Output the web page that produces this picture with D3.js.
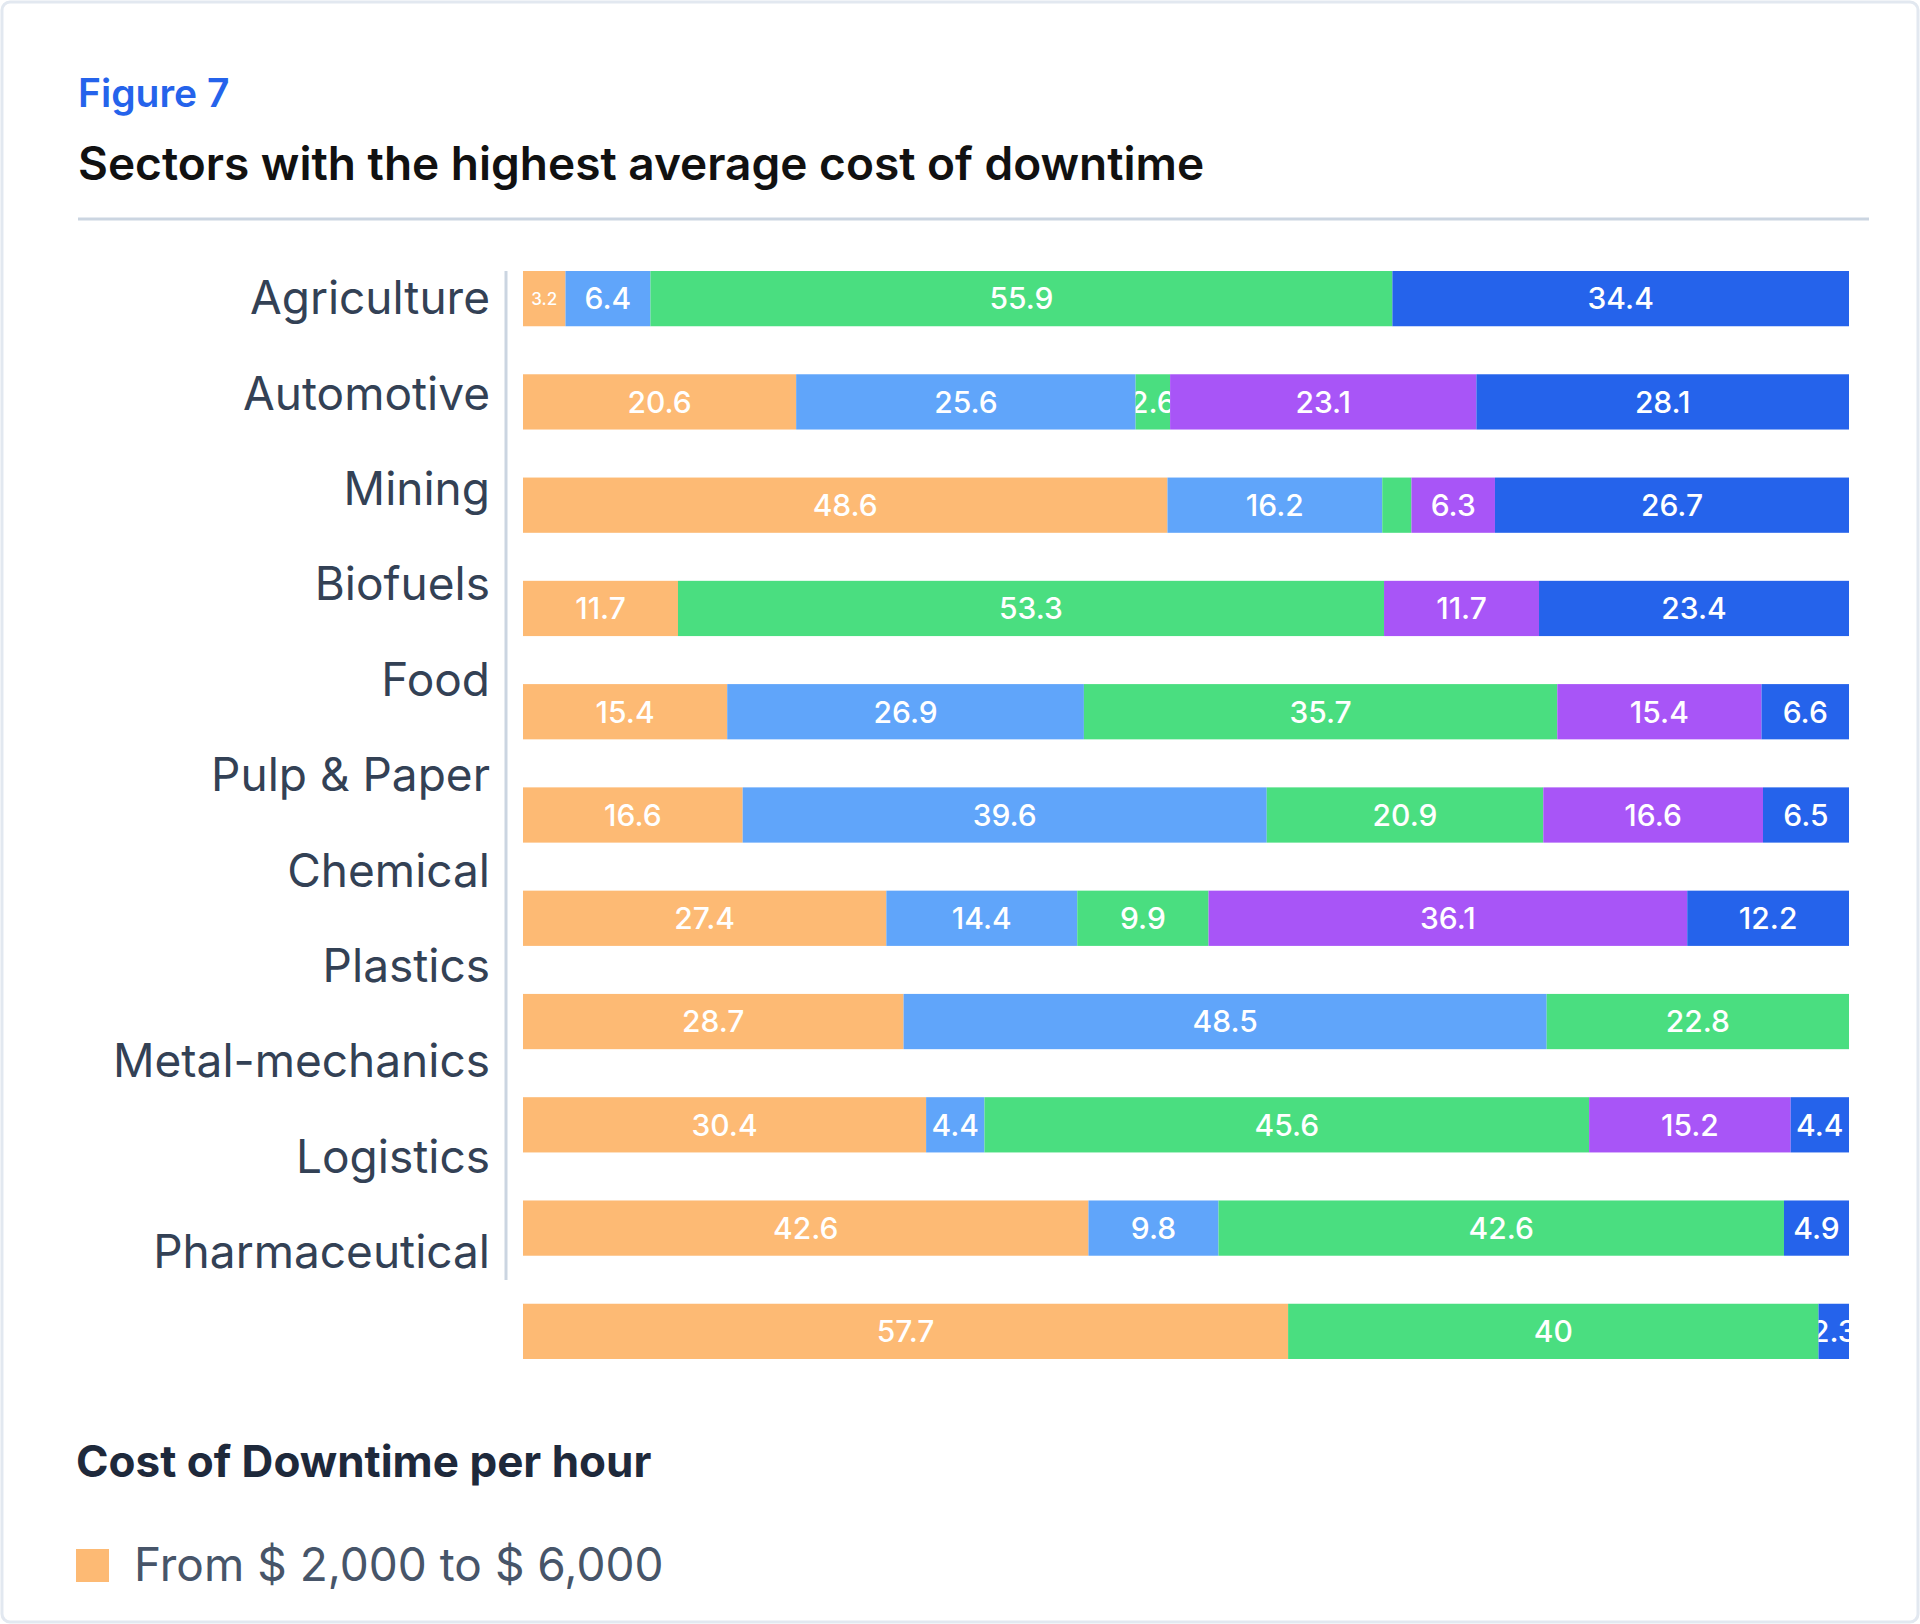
<!DOCTYPE html>
<html><head><meta charset="utf-8">
<script src="https://cdn.jsdelivr.net/npm/d3@7"></script>
<style>body{margin:0;background:#fff;font-family:Inter,sans-serif}</style>
</head><body><svg id="c" width="1920" height="1624"></svg>
<script>
const categories=["Agriculture","Automotive","Mining","Biofuels","Food","Pulp & Paper","Chemical","Plastics","Metal-mechanics","Logistics","Pharmaceutical"];
const seriesNames=["From $ 2,000 to $ 6,000","s2","s3","s4","s5"];
const s1=[3.2,20.6,48.6,11.7,15.4,16.6,27.4,28.7,30.4,42.6,57.7];
const s2=[6.4,25.6,16.2,0,26.9,39.6,14.4,48.5,4.4,9.8,0];
const s3=[55.9,2.6,2.2,53.3,35.7,20.9,9.9,22.8,45.6,42.6,40];
const s4=[0,23.1,6.3,11.7,15.4,16.6,36.1,0,15.2,0,0];
const s5=[34.4,28.1,26.7,23.4,6.6,6.5,12.2,0,4.4,4.9,2.3];
const colors=["#fdba74","#60a5fa","#4ade80","#a855f7","#2563eb"];

const svg=d3.select("#c");
svg.append("rect").attr("x",2).attr("y",2).attr("width",1916).attr("height",1620).attr("rx",8)
 .attr("fill","#fff").attr("stroke","#e2e8f0").attr("stroke-width",3);
svg.append("text").attr("x",78).attr("y",107).attr("fill","#2563eb").attr("font-size",39).attr("font-weight",600).text("Figure 7");
svg.append("text").attr("x",78).attr("y",180).attr("fill","#111").attr("font-size",46).attr("font-weight",600).text("Sectors with the highest average cost of downtime");
svg.append("line").attr("x1",78).attr("x2",1869).attr("y1",219).attr("y2",219).attr("stroke","#cbd5e1").attr("stroke-width",3);

const rows=categories.map((c,i)=>{const v=[s1[i],s2[i],s3[i],s4[i],s5[i]];let acc=0;
 return v.map((d,k)=>{const o={cat:c,k,v:d,x0:acc};acc+=d;o.x1=acc;return o;});});
const total=rows.map(r=>r[r.length-1].x1);
const x=d3.scaleLinear().domain([0,1]).range([523,1849]);
const y=d3.scaleBand().domain(categories).range([271,1359]).paddingInner(0.465).paddingOuter(0);
const yl=d3.scalePoint().domain(categories).range([298,1252]);

svg.append("line").attr("x1",506).attr("x2",506).attr("y1",271).attr("y2",1280).attr("stroke","#cbd5e1").attr("stroke-width",3);
svg.append("g").selectAll("text").data(categories).join("text")
 .attr("x",490).attr("y",d=>yl(d)).attr("dy","0.35em").attr("text-anchor","end")
 .attr("fill","#334155").attr("font-size",46).text(d=>d);

const defs=svg.append("defs");
const segs=rows.flatMap((r,i)=>r.filter(d=>d.v>0).map(d=>({...d,t:total[i]})));
const g=svg.append("g");
segs.forEach((d,j)=>{
 const x0=x(d.x0/d.t),x1=x(d.x1/d.t),w=x1-x0,yy=y(d.cat),h=y.bandwidth();
 g.append("rect").attr("x",x0).attr("y",yy).attr("width",w).attr("height",h).attr("fill",colors[d.k]);
 if(w<30)return;
 defs.append("clipPath").attr("id","cp"+j).append("rect").attr("x",x0).attr("y",yy).attr("width",w).attr("height",h);
 const t=g.append("text").attr("clip-path","url(#cp"+j+")").attr("x",x0+w/2).attr("y",yy+h/2).attr("dy","0.36em")
  .attr("text-anchor","middle").attr("fill","#fff").attr("font-weight",500).attr("font-size",30).text(d.v);
 const tw=t.node().getComputedTextLength();
 if(tw>w-6&&w>=40)t.attr("font-size",17);
});

svg.append("text").attr("x",76).attr("y",1477).attr("fill","#1e293b").attr("font-size",44).attr("font-weight",700).text("Cost of Downtime per hour");
svg.append("rect").attr("x",76).attr("y",1549).attr("width",33).attr("height",33).attr("fill",colors[0]);
svg.append("text").attr("x",134).attr("y",1581).attr("fill","#475569").attr("font-size",46).text(seriesNames[0]);
</script></body></html>
